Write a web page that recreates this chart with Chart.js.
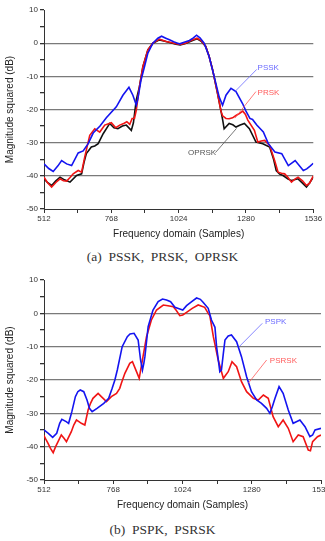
<!DOCTYPE html>
<html>
<head>
<meta charset="utf-8">
<script src="https://cdn.jsdelivr.net/npm/chart.js@4.4.1/dist/chart.umd.min.js"></script>
<style>
  html, body { margin: 0; padding: 0; background: #fff; overflow: hidden; width: 325px; height: 541px; }
  canvas { position: absolute; left: 0; }
  #chartA { top: 0; }
  #chartB { top: 270px; }
  .caption {
    position: absolute; left: 0; width: 325px; text-align: center;
    font-family: 'Liberation Serif', 'Times New Roman', serif; font-size: 13.5px; font-weight: normal;
    line-height: 16px; color: #333; white-space: pre;
  }
</style>
</head>
<body>
<canvas id="chartA" width="325" height="240"></canvas>
<div class="caption" style="top:249px">(a)  PSSK,  PRSK,  OPRSK</div>
<canvas id="chartB" width="325" height="241"></canvas>
<div class="caption" style="top:522px">(b)  PSPK,  PSRSK</div>
<script>
// (a) PSSK / PRSK / OPRSK spectra
const psskX = [512, 530, 547, 565, 579, 598, 617, 642, 661, 680, 699, 725, 749, 787, 812, 835, 850, 863, 869, 881, 894, 907, 926, 945, 959, 975, 989, 1005, 1020, 1028, 1045, 1065, 1080, 1092, 1105, 1121, 1140, 1159, 1178, 1191, 1204, 1223, 1242, 1267, 1280, 1295, 1305, 1321, 1346, 1365, 1390, 1416, 1441, 1467, 1498, 1511, 1525, 1536];
const psskY = [-36.4, -37.8, -38.7, -37, -35.4, -36.4, -36.9, -33.1, -32.5, -30.3, -27.1, -25, -22.5, -19.2, -15.7, -13.3, -15.7, -18.7, -16.7, -11.1, -7.1, -3, 0, 1.5, 2.1, 1.5, 1, 0.4, 0, -0.2, 0.3, 0.8, 1.6, 2.4, 1.6, 0, -4, -10, -16.2, -18.7, -15.7, -13.6, -14.6, -18.2, -20.5, -22.7, -23, -24.7, -26.8, -30.3, -32.8, -33.3, -36.9, -35.4, -38.4, -37.9, -37, -36.2];

const prskX = [512, 525, 541, 557, 573, 586, 598, 611, 623, 642, 655, 667, 686, 705, 724, 743, 768, 785, 800, 815, 827, 838, 847, 856, 863, 875, 888, 907, 926, 951, 976, 995, 1014, 1030, 1050, 1070, 1094, 1110, 1127, 1140, 1153, 1172, 1185, 1191, 1204, 1216, 1229, 1242, 1255, 1268, 1278, 1287, 1312, 1325, 1338, 1351, 1370, 1389, 1402, 1415, 1427, 1440, 1453, 1466, 1478, 1495, 1510, 1522, 1536];
const prskY = [-40.4, -42, -43.4, -42, -40.9, -41.5, -41.6, -40.5, -39.4, -38.4, -38.9, -34.3, -27.8, -25.8, -26.8, -24.7, -24, -25.5, -24.7, -24.2, -23.7, -24.5, -22.7, -22.7, -20.2, -13.1, -7.1, -2, 0, 1.2, 0.5, 0.2, -0.2, -0.4, 0, 0.8, 1.5, 0.8, -1, -4, -8, -15.2, -20.5, -21.9, -22.7, -22.8, -22.5, -21.8, -21.2, -20.5, -21.5, -23.2, -26.3, -29.8, -29.5, -29.3, -30.8, -35.4, -38.9, -39.2, -39.4, -40.5, -41.9, -41, -40.4, -41.5, -42.9, -42.2, -40];

const oprskX = [512, 525, 541, 557, 573, 590, 611, 636, 655, 664, 673, 692, 705, 718, 737, 762, 778, 793, 810, 825, 844, 852, 858, 863, 875, 888, 907, 926, 951, 976, 1000, 1014, 1030, 1050, 1070, 1094, 1110, 1127, 1140, 1153, 1172, 1185, 1191, 1197, 1216, 1230, 1242, 1258, 1274, 1293, 1318, 1344, 1370, 1385, 1395, 1408, 1421, 1440, 1453, 1478, 1495, 1510, 1523, 1536];
const oprskY = [-40.9, -42, -42.9, -41.5, -40.4, -41.2, -41.9, -39.9, -39.4, -36, -33.3, -31.3, -31, -30.3, -27.3, -24.2, -25.5, -25.8, -25, -24.7, -26.3, -24, -20.2, -17, -13.1, -7.1, -2, 0, 1, 0.5, 0, -0.3, -0.5, -0.1, 0.6, 1.3, 0.6, -1, -4, -8, -15.2, -20.5, -23, -25.8, -24.2, -24.6, -25.3, -24.7, -24.2, -25.8, -29.8, -30.3, -31.3, -35, -38.4, -39.5, -39.9, -41, -41.4, -40.9, -42.2, -43.4, -42, -40.4];

// (b) PSPK / PSRSK spectra
const pspkX = [512, 520, 528, 544, 559, 570, 578, 594, 603, 615, 628, 637, 646, 659, 671, 680, 690, 708, 733, 751, 764, 774, 783, 801, 820, 830, 845, 860, 869, 876, 881, 885, 897, 915, 934, 950, 965, 980, 996, 1014, 1025, 1039, 1058, 1076, 1090, 1100, 1119, 1131, 1144, 1150, 1162, 1168, 1175, 1181, 1193, 1205, 1224, 1242, 1261, 1279, 1298, 1316, 1335, 1347, 1356, 1366, 1381, 1396, 1415, 1433, 1445, 1458, 1477, 1495, 1505, 1514, 1536];
const pspkY = [-35, -35.5, -36, -37.2, -36, -33, -31.8, -32.5, -33, -29.5, -25, -23.5, -23, -23.5, -26, -28.5, -29.5, -28.5, -27, -25.5, -22.5, -20, -17, -10, -7, -6.2, -6, -8, -14, -17, -15, -13, -4, 1, 3.5, 4.3, 4, 3.5, 1.8, 1.3, 1, 2.3, 3.5, 4.6, 4.2, 3.3, 1.5, -2, -4.2, -10, -17.5, -17, -12, -8, -6.8, -6.5, -8.5, -13, -19, -23.5, -26, -27, -28.5, -30, -28, -25.5, -22, -24, -29, -33, -32.5, -32, -34, -37, -36.5, -35, -34.5];

const psrskX = [511, 520, 527, 536, 546, 555, 564, 576, 586, 595, 604, 613, 622, 632, 641, 650, 663, 675, 684, 693, 712, 724, 743, 761, 780, 792, 798, 811, 829, 839, 854, 864, 878, 891, 909, 928, 953, 970, 990, 1000, 1014, 1025, 1039, 1060, 1082, 1106, 1119, 1125, 1138, 1156, 1175, 1193, 1207, 1224, 1242, 1261, 1286, 1304, 1323, 1341, 1359, 1378, 1396, 1415, 1433, 1452, 1470, 1489, 1497, 1505, 1523, 1536];
const psrskY = [-36.5, -38, -39, -40.5, -41.8, -40, -38.5, -36.5, -37.5, -38.5, -37, -35.5, -33.5, -32, -32.5, -33, -33.5, -29, -27, -25.5, -24, -25, -26.5, -25, -24, -22.5, -21, -18, -15, -14.5, -17.5, -19.5, -13, -7, -2, 1, 2.5, 2.3, 2, 1, -0.7, -0.5, 0.3, 1.5, 2.5, 1.8, 0, -0.7, -7, -14, -19.5, -17.5, -14.5, -16, -20.5, -23.5, -25.5, -26, -24.5, -25.5, -31, -34, -32, -34.5, -38.5, -36.5, -37, -41, -41.2, -38.5, -37, -36.5];

const xTickMin = 512, xTickMax = 1536;
const yTickMin = -50, yTickMax = 10;
const gridValues = [0, -10, -20, -30, -40];

function pts(xs, ys) {
    return xs.map((x, i) => ({ x: x, y: ys[i] }));
}

// leader lines + labels, placed in data units
const notePlugin = {
    id: 'notes',
    afterDatasetsDraw(chart, args, opts) {
        const ctx = chart.ctx;
        const xs = chart.scales.x, ys = chart.scales.y;
        ctx.save();
        (opts.notes || []).forEach(n => {
            ctx.strokeStyle = n.color;
            ctx.lineWidth = 0.8;
            ctx.beginPath();
            ctx.moveTo(xs.getPixelForValue(n.from[0]), ys.getPixelForValue(n.from[1]));
            ctx.lineTo(xs.getPixelForValue(n.to[0]), ys.getPixelForValue(n.to[1]));
            ctx.stroke();
            ctx.fillStyle = n.color;
            ctx.font = "8px 'Liberation Sans', Arial, sans-serif";
            ctx.textAlign = 'left';
            ctx.textBaseline = 'middle';
            ctx.fillText(n.text, xs.getPixelForValue(n.at[0]), ys.getPixelForValue(n.at[1]));
        });
        ctx.restore();
    }
};

function makeChart(id, datasets, notes, padRight) {
    const tickFont = { family: "'Liberation Sans', Arial, sans-serif", size: 8 };
    const titleFont = { family: "'Liberation Sans', Arial, sans-serif", size: 10 };
    return new Chart(document.getElementById(id), {
        type: 'line',
        data: { datasets: datasets },
        plugins: [notePlugin],
        options: {
            responsive: false,
            animation: false,
            devicePixelRatio: 1,
            layout: { padding: { left: 0, right: padRight, top: 10, bottom: 0 } },
            elements: { point: { radius: 0 }, line: { tension: 0, borderWidth: 1.6 } },
            plugins: {
                legend: { display: false },
                tooltip: { enabled: false },
                notes: { notes: notes }
            },
            scales: {
                x: {
                    type: 'linear',
                    min: xTickMin, max: xTickMax,
                    afterFit(scale) { scale.height = 31; scale.paddingLeft = 0; scale.paddingRight = 0; },
                    ticks: {
                        stepSize: 128, autoSkip: false, maxRotation: 0, padding: 1,
                        color: '#333', font: tickFont,
                        callback: v => (v % 256 === 0 ? String(v) : '')
                    },
                    grid: { drawOnChartArea: false, drawTicks: true, tickLength: 4, tickColor: '#333' },
                    border: { display: true, color: '#333', width: 1 },
                    title: { display: true, text: 'Frequency domain (Samples)', color: '#222', font: titleFont, padding: { top: 0, bottom: 0 } }
                },
                y: {
                    min: yTickMin, max: yTickMax,
                    afterFit(scale) { scale.width = 44; scale.paddingTop = 0; scale.paddingBottom = 0; },
                    ticks: {
                        stepSize: 5, autoSkip: false, padding: 2,
                        color: '#333', font: tickFont,
                        callback: v => (v % 10 === 0 ? String(v) : '')
                    },
                    grid: {
                        drawTicks: true, tickLength: 4, tickColor: '#333', lineWidth: 1.3,
                        color: c => (gridValues.includes(c.tick && c.tick.value) ? '#7a7a7a' : 'rgba(0,0,0,0)')
                    },
                    border: { display: true, color: '#333', width: 1 },
                    title: { display: true, text: 'Magnitude squared (dB)', color: '#222', font: titleFont, padding: { top: 4, bottom: 0 } }
                }
            }
        }
    });
}

makeChart('chartA', [
    { label: 'PSSK', data: pts(psskX, psskY), borderColor: '#1414f0' },
    { label: 'PRSK', data: pts(prskX, prskY), borderColor: '#f01414' },
    { label: 'OPRSK', data: pts(oprskX, oprskY), borderColor: '#111111' }
], [
    { text: 'PSSK', color: '#6a6aff', at: [1324, -7.3], from: [1321, -7.9], to: [1238, -14.6] },
    { text: 'PRSK', color: '#ff5a5a', at: [1324, -14.9], from: [1318, -14.6], to: [1238, -22.6] },
    { text: 'OPRSK', color: '#555555', at: [1060, -33.2], from: [1164, -33], to: [1244, -25.7] }
], 11.7);

makeChart('chartB', [
    { label: 'PSPK', data: pts(pspkX, pspkY), borderColor: '#1414f0' },
    { label: 'PSRSK', data: pts(psrskX, psrskY), borderColor: '#f01414' }
], [
    { text: 'PSPK', color: '#6a6aff', at: [1329, -2.5], from: [1319, -3], to: [1236, -9.8] },
    { text: 'PSRSK', color: '#ff5a5a', at: [1347, -14.3], from: [1335, -14], to: [1267, -21] }
], 4);
</script>
</body>
</html>
